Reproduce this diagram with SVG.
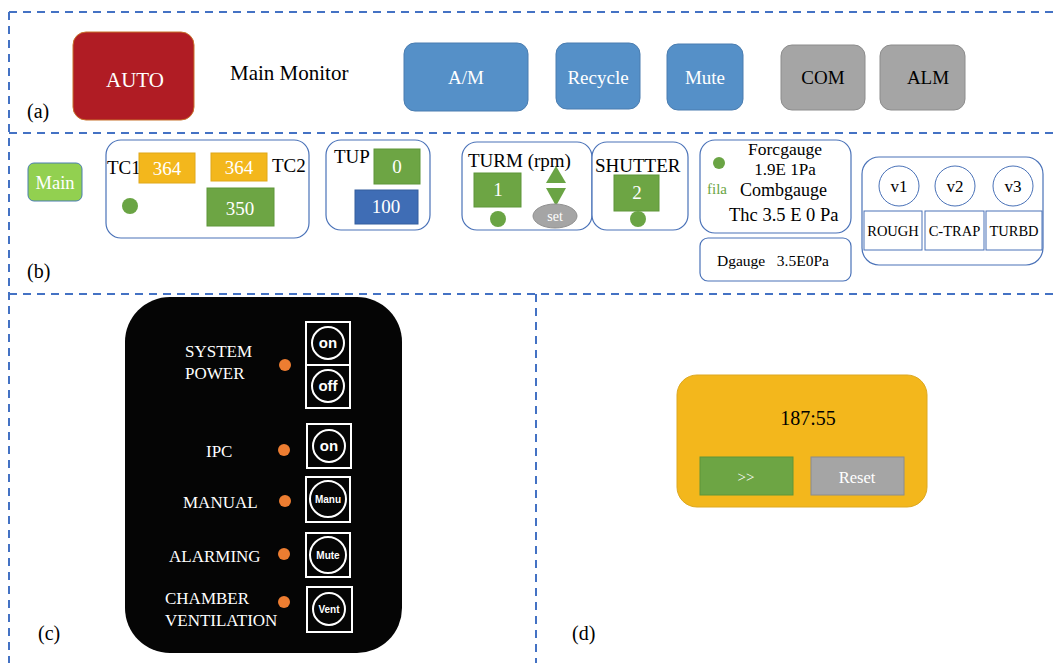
<svg xmlns="http://www.w3.org/2000/svg" width="1058" height="663" viewBox="0 0 1058 663">
  <style>
    text { font-family: "Liberation Serif", "Times New Roman", serif; }
    .dash { stroke: #4472C4; stroke-width: 2; stroke-dasharray: 8 6; fill: none; }
    .panel { fill: #fff; stroke: #4A72B8; stroke-width: 1.2; }
    .blue { fill: #5590C8; stroke: #4A7DB0; stroke-width: 1; }
    .gray { fill: #A5A5A5; stroke: #8C8C8C; stroke-width: 1; }
    .orange { fill: #F3B71C; stroke: #E0A818; stroke-width: 1; }
    .green { fill: #6DA544; stroke: #5E9638; stroke-width: 1; }
    .wt { fill: #fff; text-anchor: middle; }
    .bk { fill: #000; }
    .led { fill: #ED7D31; }
    .btnbox { fill: none; stroke: #fff; stroke-width: 2; }
    .btnring { fill: none; stroke: #fff; stroke-width: 2; }
    .btntxt { fill: #fff; text-anchor: middle; font-family: "Liberation Sans", Arial, sans-serif; font-weight: bold; }
    .lbl { fill: #fff; font-size: 17px; }
    .cell { fill: #fff; stroke: #4A72B8; stroke-width: 1; }
    .tag { font-size: 20px; fill: #000; }
  </style>

  <!-- section frames -->
  <g id="frames">
    <path class="dash" d="M9 12 H1058 M9 12 V663 M9 133 H1058 M9 294 H1058 M536 294 V663"/>
  </g>

  <!-- (a) top bar -->
  <g id="auto">
    <rect x="73" y="32" width="121" height="88" rx="13" fill="#B01C24" stroke="#C8702A" stroke-width="1"/>
    <text x="135" y="87" class="wt" font-size="21">AUTO</text>
  </g>
  <text x="230" y="80" font-size="21" class="bk">Main Monitor</text>
  <g id="am">
    <rect x="404" y="43" width="124" height="68" rx="11" class="blue"/>
    <text x="466" y="84" class="wt" font-size="19">A/M</text>
  </g>
  <g id="recycle">
    <rect x="556" y="43" width="84" height="66" rx="11" class="blue"/>
    <text x="598" y="84" class="wt" font-size="19">Recycle</text>
  </g>
  <g id="mute">
    <rect x="667" y="44" width="76" height="66" rx="11" class="blue"/>
    <text x="705" y="84" class="wt" font-size="19">Mute</text>
  </g>
  <g id="com">
    <rect x="781" y="45" width="84" height="65" rx="11" class="gray"/>
    <text x="823" y="84" text-anchor="middle" font-size="19" class="bk">COM</text>
  </g>
  <g id="alm">
    <rect x="880" y="45" width="85" height="65" rx="11" class="gray"/>
    <text x="928" y="84" text-anchor="middle" font-size="19" class="bk">ALM</text>
  </g>
  <text x="27" y="118" class="tag">(a)</text>

  <!-- (b) status row -->
  <g id="main">
    <rect x="28" y="163" width="54" height="38" rx="6" fill="#92D050" stroke="#4A7DB0" stroke-width="1"/>
    <text x="55" y="189" class="wt" font-size="18.5">Main</text>
  </g>

  <g id="tc">
    <rect x="106" y="140" width="203" height="98" rx="15" class="panel"/>
    <text x="107" y="174" font-size="19" class="bk">TC1</text>
    <rect x="139" y="153" width="56" height="30" class="orange"/>
    <text x="167" y="175" class="wt" font-size="19">364</text>
    <rect x="211" y="153" width="56" height="28" class="orange"/>
    <text x="239" y="174" class="wt" font-size="19">364</text>
    <text x="272" y="172" font-size="19" class="bk">TC2</text>
    <circle cx="130" cy="206" r="8" fill="#6AA444"/>
    <rect x="207" y="188" width="67" height="38" class="green"/>
    <text x="240" y="215" class="wt" font-size="19">350</text>
  </g>

  <g id="tup">
    <rect x="326" y="140" width="104" height="90" rx="15" class="panel"/>
    <text x="334" y="163" font-size="19" class="bk">TUP</text>
    <rect x="374" y="149" width="46" height="35" class="green"/>
    <text x="397" y="173" class="wt" font-size="19">0</text>
    <rect x="355" y="190" width="63" height="34" fill="#3F6DB5" stroke="#355E9E" stroke-width="1"/>
    <text x="386" y="213" class="wt" font-size="19">100</text>
  </g>

  <g id="turm">
    <rect x="462" y="142" width="130" height="88" rx="15" class="panel"/>
    <text x="468" y="167" font-size="19" class="bk">TURM (rpm)</text>
    <rect x="474" y="173" width="47" height="34" class="green"/>
    <text x="498" y="196" class="wt" font-size="19">1</text>
    <circle cx="498" cy="219" r="8" fill="#6AA444"/>
    <polygon points="556,166 566,183 546,183" fill="#6AA444"/>
    <polygon points="546,188 566,188 556,206" fill="#6AA444"/>
    <ellipse cx="555" cy="216" rx="22" ry="12" fill="#A5A5A5" stroke="#909090" stroke-width="1"/>
    <text x="555" y="221" class="wt" font-size="14">set</text>
  </g>

  <g id="shutter">
    <rect x="592" y="142" width="96" height="88" rx="15" class="panel"/>
    <text x="595" y="172" font-size="19" class="bk">SHUTTER</text>
    <rect x="614" y="175" width="45" height="36" class="green"/>
    <text x="637" y="199" class="wt" font-size="19">2</text>
    <circle cx="638" cy="219" r="8" fill="#6AA444"/>
  </g>

  <g id="gauges">
    <rect x="700" y="140" width="151" height="93" rx="15" class="panel"/>
    <circle cx="719" cy="163" r="6" fill="#6AA444"/>
    <text x="785" y="155" text-anchor="middle" font-size="17.5" class="bk">Forcgauge</text>
    <text x="785" y="175" text-anchor="middle" font-size="17" class="bk">1.9E 1Pa</text>
    <text x="707" y="194" font-size="15" fill="#6AA444">fila</text>
    <text x="740" y="196" font-size="18" class="bk">Combgauge</text>
    <text x="729" y="221" font-size="18.5" class="bk">Thc 3.5 E 0 Pa</text>
  </g>

  <g id="dgauge">
    <rect x="700" y="238" width="151" height="43" rx="8" class="panel"/>
    <text x="717" y="266" font-size="15.5" class="bk" xml:space="preserve">Dgauge   3.5E0Pa</text>
  </g>

  <g id="valves">
    <rect x="862" y="157" width="181" height="108" rx="17" class="panel"/>
    <circle cx="899" cy="186" r="20" class="cell"/>
    <text x="899" y="192" text-anchor="middle" font-size="17" class="bk">v1</text>
    <circle cx="955" cy="186" r="20" class="cell"/>
    <text x="955" y="192" text-anchor="middle" font-size="17" class="bk">v2</text>
    <circle cx="1013" cy="186" r="20" class="cell"/>
    <text x="1013" y="192" text-anchor="middle" font-size="17" class="bk">v3</text>
    <rect x="864" y="211" width="58" height="39" class="cell"/>
    <text x="893" y="236" text-anchor="middle" font-size="14.5" class="bk">ROUGH</text>
    <rect x="925" y="211" width="59" height="39" class="cell"/>
    <text x="954.5" y="236" text-anchor="middle" font-size="14.5" class="bk">C-TRAP</text>
    <rect x="986" y="211" width="56" height="39" class="cell"/>
    <text x="1014" y="236" text-anchor="middle" font-size="14.5" class="bk">TURBD</text>
  </g>
  <text x="27" y="278" class="tag">(b)</text>

  <!-- (c) control panel -->
  <g id="panel">
    <rect x="125" y="297" width="277" height="356" rx="45" fill="#050505"/>
    <text x="185" y="357" class="lbl">SYSTEM</text>
    <text x="185" y="379" class="lbl">POWER</text>
    <text x="206" y="457" class="lbl">IPC</text>
    <text x="183" y="508" class="lbl">MANUAL</text>
    <text x="169" y="562" class="lbl">ALARMING</text>
    <text x="165" y="604" class="lbl">CHAMBER</text>
    <text x="165" y="626" class="lbl">VENTILATION</text>

    <circle cx="285" cy="365" r="6" class="led"/>
    <circle cx="284" cy="450" r="6" class="led"/>
    <circle cx="285" cy="501" r="6" class="led"/>
    <circle cx="284" cy="554" r="6" class="led"/>
    <circle cx="284" cy="602" r="6" class="led"/>

    <rect x="306" y="322" width="44" height="43" class="btnbox"/>
    <circle cx="328" cy="343" r="16" class="btnring"/>
    <text x="328" y="348" class="btntxt" font-size="15">on</text>

    <rect x="306" y="365" width="44" height="43" class="btnbox"/>
    <circle cx="328" cy="386" r="16" class="btnring"/>
    <text x="328" y="391" class="btntxt" font-size="15">off</text>

    <rect x="307" y="424" width="44" height="44" class="btnbox"/>
    <circle cx="329" cy="446" r="16" class="btnring"/>
    <text x="329" y="451" class="btntxt" font-size="15">on</text>

    <rect x="306" y="477" width="44" height="45" class="btnbox"/>
    <circle cx="328" cy="499" r="18" class="btnring"/>
    <text x="328" y="503" class="btntxt" font-size="10">Manu</text>

    <rect x="306" y="533" width="44" height="44" class="btnbox"/>
    <circle cx="328" cy="555" r="18" class="btnring"/>
    <text x="328" y="559" class="btntxt" font-size="10">Mute</text>

    <rect x="307" y="587" width="45" height="45" class="btnbox"/>
    <circle cx="329" cy="609" r="16" class="btnring"/>
    <text x="329" y="613" class="btntxt" font-size="10">Vent</text>
  </g>
  <text x="38" y="640" class="tag">(c)</text>

  <!-- (d) timer -->
  <g id="timer">
    <rect x="677" y="375" width="250" height="132" rx="20" fill="#F3B71C" stroke="#DDA820" stroke-width="1"/>
    <text x="808" y="425" text-anchor="middle" font-size="20" class="bk">187:55</text>
  </g>
  <g id="next">
    <rect x="700" y="457" width="93" height="38" class="green"/>
    <text x="746" y="482" class="wt" font-size="15">&gt;&gt;</text>
  </g>
  <g id="reset">
    <rect x="811" y="457" width="93" height="38" class="gray"/>
    <text x="857" y="483" class="wt" font-size="16.5">Reset</text>
  </g>
  <text x="572" y="640" class="tag">(d)</text>
</svg>
